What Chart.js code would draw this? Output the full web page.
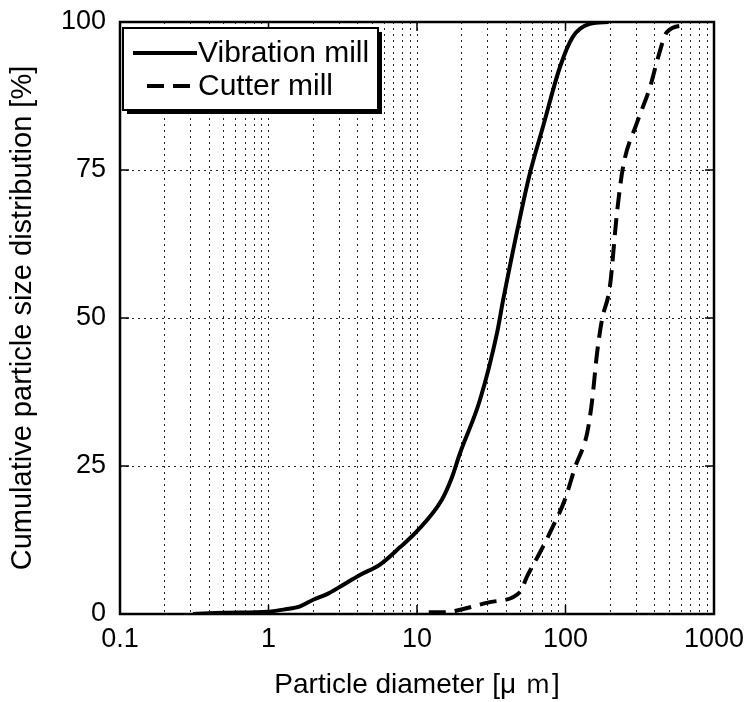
<!DOCTYPE html>
<html>
<head>
<meta charset="utf-8">
<script src="https://cdn.jsdelivr.net/npm/chart.js@4"></script>
<style>
html, body { margin: 0; padding: 0; background: #fff; }
canvas { display: block; }
</style>
</head>
<body>
<canvas id="psd" width="746" height="702"></canvas>
<script>
// particle diameter [um] and cumulative %
const vibrationD = [0.31, 0.5, 1.0, 1.3, 1.63, 2.0, 2.5, 3.03, 4.13, 5.6, 7.7, 10, 14.7, 17.2, 19.5, 26.5, 34.6, 38, 49.4, 57, 70.5, 91.8, 112, 146, 195];
const vibrationV = [0, 0.2, 0.4, 0.8, 1.3, 2.4, 3.4, 4.6, 6.6, 8.3, 11.3, 14, 19.3, 23.1, 27.2, 36.1, 47.5, 53, 67, 74, 82.3, 92.4, 97.5, 99.7, 100];

const cutterD = [12, 15.7, 18.6, 31, 49.4, 55, 67, 82, 99, 116, 140, 151, 163, 176, 199, 222, 244, 303, 371, 420, 482, 640];
const cutterV = [0.3, 0.3, 0.6, 2.0, 3.7, 6.3, 10.3, 14.7, 19.3, 24.8, 30.6, 36, 44, 49.7, 55.3, 67.7, 75.5, 83, 89, 94, 98.3, 99.5];

const xTickValues = [0.1, 0.2, 0.3, 0.4, 0.5, 0.6, 0.7, 0.8, 0.9,
                     1, 2, 3, 4, 5, 6, 7, 8, 9,
                     10, 20, 30, 40, 50, 60, 70, 80, 90,
                     100, 200, 300, 400, 500, 600, 700, 800, 900, 1000];
const xMajor = [0.1, 1, 10, 100, 1000];
const xMajorLabels = ['0.1', '1', '10', '100', '1000'];
const yTickValues = [0, 25, 50, 75, 100];

const FONT = "'Liberation Sans', Arial, sans-serif";

function toPoints(xs, ys) {
    return xs.map((x, i) => ({ x: x, y: ys[i] }));
}

// axes frame plus short inward ticks at major values
const framePlugin = {
    id: 'frame',
    afterDatasetsDraw(chart) {
        const ctx = chart.ctx;
        const a = chart.chartArea;
        const sx = chart.scales.x, sy = chart.scales.y;
        ctx.save();
        ctx.strokeStyle = '#000';
        ctx.lineWidth = 1.5;
        ctx.beginPath();
        xMajor.forEach(v => {
            const px = sx.getPixelForValue(v);
            ctx.moveTo(px, a.bottom); ctx.lineTo(px, a.bottom - 9);
            ctx.moveTo(px, a.top); ctx.lineTo(px, a.top + 9);
        });
        yTickValues.forEach(v => {
            const py = sy.getPixelForValue(v);
            ctx.moveTo(a.left, py); ctx.lineTo(a.left + 9, py);
            ctx.moveTo(a.right, py); ctx.lineTo(a.right - 9, py);
        });
        ctx.stroke();
        ctx.lineWidth = 2.5;
        ctx.strokeRect(a.left, a.top, a.right - a.left, a.bottom - a.top);
        ctx.restore();
    }
};

// boxed legend with drop shadow inside the plot
const boxLegend = {
    id: 'boxLegend',
    afterDraw(chart) {
        const ctx = chart.ctx;
        const a = chart.chartArea;
        const bx = a.left + 3, by = a.top + 6, bw = 255, bh = 82;
        ctx.save();
        ctx.fillStyle = '#000';
        ctx.fillRect(bx + 4, by + 4, bw, bh);
        ctx.fillStyle = '#fff';
        ctx.fillRect(bx, by, bw, bh);
        ctx.strokeStyle = '#000';
        ctx.lineWidth = 2;
        ctx.strokeRect(bx, by, bw, bh);

        ctx.font = '30px ' + FONT;
        ctx.textBaseline = 'middle';
        ctx.fillStyle = '#000';
        chart.data.datasets.forEach((ds, i) => {
            const y = by + 25 + i * 33;
            ctx.lineWidth = 4;
            ctx.setLineDash(ds.borderDash || []);
            ctx.lineDashOffset = 0;
            ctx.beginPath();
            if (ds.borderDash && ds.borderDash.length) {
                ctx.moveTo(bx + 24, y);
            } else {
                ctx.moveTo(bx + 10, y);
            }
            ctx.lineTo(bx + 74, y);
            ctx.stroke();
            ctx.setLineDash([]);
            ctx.fillText(ds.label, bx + 75, y + 1);
        });
        ctx.restore();
    }
};

const ctx = document.getElementById('psd').getContext('2d');
const chart = new Chart(ctx, {
    type: 'line',
    data: {
        datasets: [{
            label: 'Vibration mill',
            data: toPoints(vibrationD, vibrationV),
            borderColor: '#000',
            borderWidth: 4,
            pointRadius: 0,
            cubicInterpolationMode: 'monotone',
            fill: false
        }, {
            label: 'Cutter mill',
            data: toPoints(cutterD, cutterV),
            borderColor: '#000',
            borderWidth: 4,
            borderDash: [17, 9],
            pointRadius: 0,
            cubicInterpolationMode: 'monotone',
            fill: false
        }]
    },
    options: {
        responsive: false,
        animation: false,
        layout: {
            padding: { top: 22, right: 32, left: 0, bottom: 0 }
        },
        plugins: {
            legend: { display: false },
            tooltip: { enabled: false }
        },
        scales: {
            x: {
                type: 'logarithmic',
                min: 0.1,
                max: 1000,
                afterBuildTicks: function(scale) {
                    scale.ticks = xTickValues.map(v => ({ value: v }));
                },
                afterFit: function(scale) {
                    scale.height = 88;
                    scale.paddingLeft = 0;
                    scale.paddingRight = 0;
                },
                ticks: {
                    autoSkip: false,
                    maxRotation: 0,
                    padding: 9,
                    color: '#000',
                    font: { family: FONT, size: 27 },
                    callback: function(value) {
                        const k = xMajor.indexOf(value);
                        return k >= 0 ? xMajorLabels[k] : '';
                    }
                },
                grid: {
                    color: '#222',
                    lineWidth: 1,
                    drawTicks: false
                },
                border: {
                    display: false,
                    dash: [2, 4]
                },
                title: {
                    display: true,
                    text: 'Particle diameter [μ ｍ]',
                    color: '#000',
                    font: { family: FONT, size: 28 },
                    padding: { top: 0, bottom: 0 }
                }
            },
            y: {
                min: 0,
                max: 100,
                afterBuildTicks: function(scale) {
                    scale.ticks = yTickValues.map(v => ({ value: v }));
                },
                afterFit: function(scale) {
                    scale.width = 120;
                    scale.paddingTop = 0;
                    scale.paddingBottom = 0;
                },
                ticks: {
                    padding: 14,
                    color: '#000',
                    font: { family: FONT, size: 27 }
                },
                grid: {
                    color: '#222',
                    lineWidth: 1,
                    drawTicks: false
                },
                border: {
                    display: false,
                    dash: [2, 4]
                },
                title: {
                    display: true,
                    text: 'Cumulative particle size distribution [%]',
                    color: '#000',
                    font: { family: FONT, size: 29 },
                    padding: { top: 6, bottom: 0 }
                }
            }
        }
    },
    plugins: [framePlugin, boxLegend]
});
</script>
</body>
</html>
